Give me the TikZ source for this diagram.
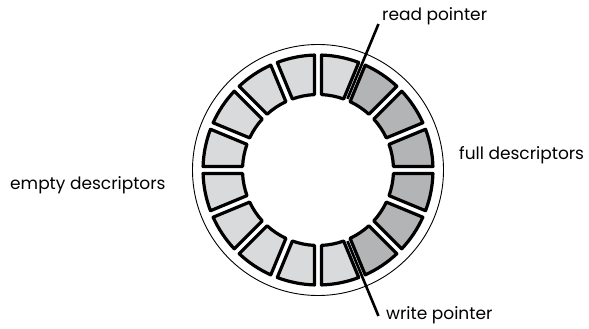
\documentclass[tikz,border=0pt]{standalone}
\usepackage{fontspec}
\setmainfont{Poppins}
\definecolor{emptygray}{HTML}{D9DADB}
\definecolor{fullgray}{HTML}{B3B4B5}
\begin{document}
\begin{tikzpicture}[x=1pt,y=1pt,
  seg/.style={draw=black, line width=3.2pt, line join=round},
  emptyseg/.style={seg, fill=emptygray},
  fullseg/.style={seg, fill=fullgray},
  ptr/.style={draw=black, line width=2.6pt},
  lbl/.style={font=\fontsize{17}{20}\selectfont, inner sep=0pt, anchor=west}]
\useasboundingbox (0,0) rectangle (589,329);
\begin{scope}[shift={(318,159)}]
  \node[draw, circle, line width=0.9pt, minimum size=251pt, inner sep=0pt] (ring) at (0,0) {};
  \def\Ro{115}
  \def\Ri{75.5}
  \pgfmathsetmacro\dout{asin(3.5/\Ro)}
  \pgfmathsetmacro\din{asin(3.5/\Ri)}
  \foreach \k in {0,...,15} {
    \pgfmathsetmacro\aa{22.5*\k}
    \pgfmathsetmacro\bb{22.5*(\k+1)}
    \ifnum\k<3 \def\st{fullseg}\else\ifnum\k>12 \def\st{fullseg}\else\def\st{emptyseg}\fi\fi
    \path[\st] (\aa+\dout:\Ro) arc[start angle=\aa+\dout, end angle=\bb-\dout, radius=\Ro]
      -- (\bb-\din:\Ri) arc[start angle=\bb-\din, end angle=\aa+\din, radius=\Ri] -- cycle;
  }
  \coordinate (rin) at (67.5:77);
  \coordinate (rout) at (67.5:158);
  \coordinate (win) at (-67.5:77);
  \coordinate (wout) at (-67.5:158);
\end{scope}
\draw[ptr] (rin) -- (rout);
\draw[ptr] (win) -- (wout);
\node[lbl] (rp) at (382,313) {read pointer};
\node[lbl] (wp) at (386,14) {write pointer};
\node[lbl] (ed) at (10,144) {empty descriptors};
\node[lbl] (fd) at (459,174) {full descriptors};
\end{tikzpicture}
\end{document}
